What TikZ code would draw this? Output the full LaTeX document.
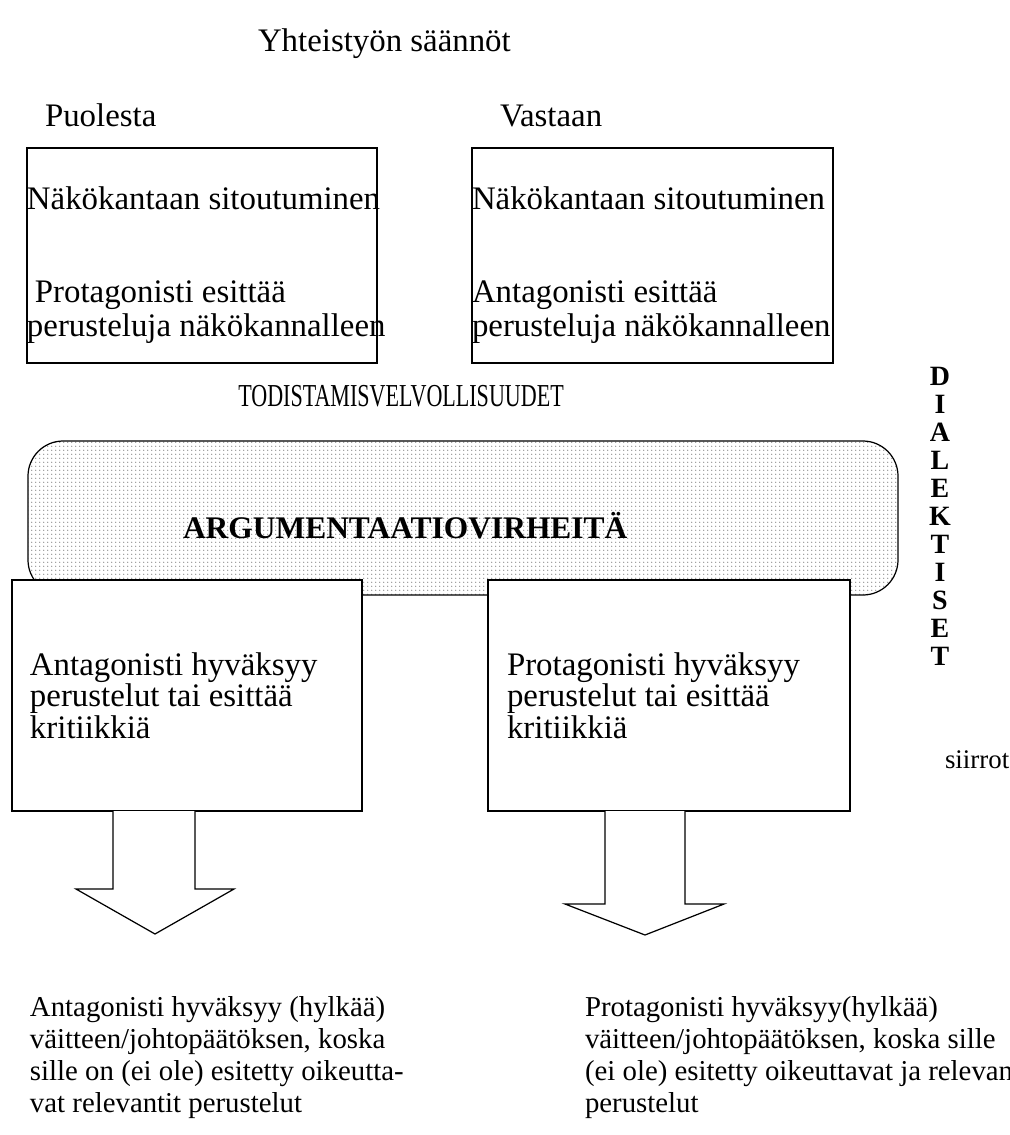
\documentclass[tikz,border=0pt]{standalone}
\usepackage{fontspec}
\setmainfont{Liberation Serif}
\usetikzlibrary{patterns}

\pgfdeclarepatternformonly{finedots}{\pgfqpoint{-0.5pt}{-0.5pt}}{\pgfqpoint{1.8pt}{1.8pt}}{\pgfqpoint{2.3pt}{2.3pt}}{%
  \pgfpathcircle{\pgfqpoint{0pt}{0pt}}{0.42pt}\pgfusepath{fill}}

\begin{document}
\begin{tikzpicture}[x=0.02cm, y=-0.02cm,
    every node/.style={inner sep=0pt, outer sep=0pt},
    body/.style={font=\fontsize{18.7}{19.3}\selectfont, align=left, anchor=base west},
    boxtext/.style={font=\fontsize{18.7}{17.9}\selectfont, align=left, anchor=base west},
    endtext/.style={font=\fontsize{16.4}{18.1}\selectfont, align=left, anchor=base west},
    frame/.style={draw, line width=0.7pt, fill=white},
    blockarrow/.style={draw, line width=0.7pt, fill=white, line join=miter}]
  \useasboundingbox (0,0) rectangle (1010,1135);

  % headings
  \node[body] (title) at (258,52) {Yhteistyön säännöt};
  \node[body] (pro) at (45,127) {Puolesta};
  \node[body] (con) at (500,127) {Vastaan};

  % upper boxes (multi-line nodes sit on their last baseline)
  \draw[frame] (27,148) rectangle (377,363);
  \draw[frame] (472,148) rectangle (833,363);
  \node[body] (proA) at (27,210) {Näkökantaan sitoutuminen};
  \node[body] (proB) at (27,336) {\hspace*{4.5pt}Protagonisti esittää\\perusteluja näkökannalleen};
  \node[body] (conA) at (472,210) {Näkökantaan sitoutuminen};
  \node[body] (conB) at (472,336) {Antagonisti esittää\\perusteluja näkökannalleen};

  \node[anchor=base, font=\fontsize{18.2}{18}\selectfont] (burden) at (401,406)
    {\scalebox{0.69}[1]{TODISTAMISVELVOLLISUUDET}};

  % stippled band
  \fill[pattern=finedots, pattern color=black!50, rounded corners=20pt] (28,441) rectangle (898,595);
  \draw[line width=0.7pt, rounded corners=20pt] (28,441) rectangle (898,595);
  \node[anchor=base west, font=\bfseries\fontsize{17.9}{18}\selectfont] (fallacy) at (183,538) {ARGUMENTAATIOVIRHEITÄ};

  % lower boxes and block arrows
  \draw[frame] (12,580) rectangle (362,811);
  \draw[frame] (488,580) rectangle (850,811);
  \node[boxtext] (antAcc) at (30,738) {Antagonisti hyväksyy\\perustelut tai esittää\\kritiikkiä};
  \node[boxtext] (proAcc) at (507,738) {Protagonisti hyväksyy\\perustelut tai esittää\\kritiikkiä};
  \draw[blockarrow] (113,811) -- (113,889) -- (76,889) -- (155,934) -- (234,889) -- (195,889) -- (195,811);
  \draw[blockarrow] (605,811) -- (605,904) -- (565,904) -- (645,935) -- (724,904) -- (685,904) -- (685,811);

  % side label
  \node[anchor=base, align=center, font=\bfseries\fontsize{15.9}{15.9}\selectfont] (dial) at (940,665)
    {D\\I\\A\\L\\E\\K\\T\\I\\S\\E\\T};
  \node[anchor=base west, font=\fontsize{15.3}{16}\selectfont] (moves) at (945,768) {siirrot};

  % outcomes
  \node[endtext] (antEnd) at (30,1112) {Antagonisti hyväksyy (hylkää)\\väitteen/johtopäätöksen, koska\\sille on (ei ole) esitetty oikeutta-\\vat relevantit perustelut};
  \node[endtext] (proEnd) at (585,1112) {Protagonisti hyväksyy(hylkää)\\väitteen/johtopäätöksen, koska sille\\(ei ole) esitetty oikeuttavat ja relevantit\\perustelut};
\end{tikzpicture}
\end{document}
